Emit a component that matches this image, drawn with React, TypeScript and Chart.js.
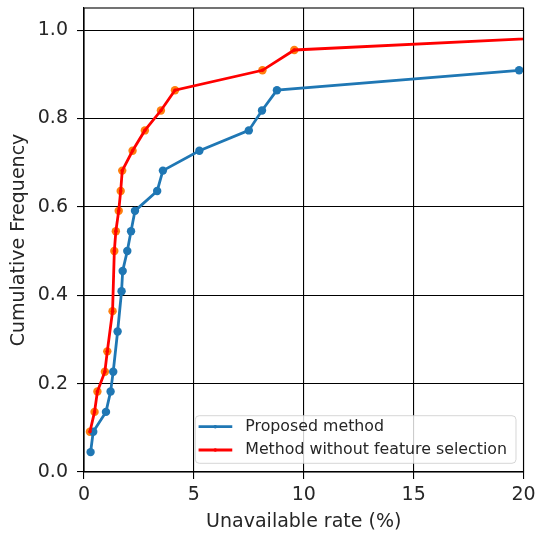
import React, { useEffect, useRef } from "react";
import { Chart, registerables } from "chart.js";

Chart.register(...registerables);

// ---- data ----
const proposedRate = [0.3, 0.42, 1.0, 1.21, 1.33, 1.53, 1.71, 1.76, 1.97, 2.14, 2.32, 3.33, 3.59, 5.25, 7.5, 8.1, 8.78, 19.8];
const proposedFreq = [0.045, 0.091, 0.136, 0.182, 0.227, 0.318, 0.409, 0.455, 0.5, 0.545, 0.591, 0.636, 0.682, 0.727, 0.773, 0.818, 0.864, 0.909];
const baselineRate = [0.27, 0.48, 0.61, 0.95, 1.06, 1.3, 1.38, 1.45, 1.58, 1.67, 1.74, 2.21, 2.77, 3.5, 4.14, 8.12, 9.57, 28.3];
const baselineFreq = [0.091, 0.136, 0.182, 0.227, 0.273, 0.364, 0.5, 0.545, 0.591, 0.636, 0.682, 0.727, 0.773, 0.818, 0.864, 0.909, 0.955, 1.0];
const seriesLabels = ["Proposed method", "Method without feature selection"];
const xTitle = "Unavailable rate (%)";
const yTitle = "Cumulative Frequency";

const FONT = "'DejaVu Sans', sans-serif";
const BLUE = "#1f77b4";
const RED = "#ff0000";
const ORANGE = "#ff7f0e";
const TEXT = "#262626";

const toPoints = (xs: number[], ys: number[]) => xs.map((x, i) => ({ x, y: ys[i] }));

const framePlugin = {
  id: "frame",
  afterDraw(chart: any) {
    const { ctx, chartArea } = chart;
    ctx.save();
    ctx.strokeStyle = "#000";
    ctx.lineWidth = 1.1;
    ctx.strokeRect(chartArea.left, chartArea.top, chartArea.right - chartArea.left, chartArea.bottom - chartArea.top);
    ctx.restore();
  },
};

const legendPlugin = {
  id: "insideLegend",
  afterDraw(chart: any) {
    const { ctx, chartArea } = chart;
    ctx.save();
    ctx.font = `15.8px ${FONT}`;
    const items = [
      { label: seriesLabels[0], color: BLUE },
      { label: seriesLabels[1], color: RED },
    ];
    const maxW = Math.max(...items.map((i) => ctx.measureText(i.label).width));
    const right = chartArea.right - 7.5;
    const bottom = chartArea.bottom - 8.7;
    const w = 50 + maxW + 9;
    const h = 47.6;
    const left = right - w;
    const top = bottom - h;
    ctx.beginPath();
    ctx.roundRect(left, top, w, h, 4);
    ctx.fillStyle = "rgba(255,255,255,0.8)";
    ctx.fill();
    ctx.strokeStyle = "rgba(204,204,204,0.8)";
    ctx.lineWidth = 1;
    ctx.stroke();
    items.forEach((it, i) => {
      const y = top + 11 + i * 23.3;
      ctx.beginPath();
      ctx.moveTo(left + 3.3, y);
      ctx.lineTo(left + 37, y);
      ctx.strokeStyle = it.color;
      ctx.lineWidth = 2.8;
      ctx.stroke();
      ctx.beginPath();
      ctx.arc(left + 20, y, 1.8, 0, Math.PI * 2);
      ctx.fillStyle = it.color;
      ctx.fill();
      ctx.fillStyle = TEXT;
      ctx.textAlign = "left";
      ctx.textBaseline = "middle";
      ctx.fillText(it.label, left + 50, y);
    });
    ctx.restore();
  },
};

export default function App() {
  const ref = useRef<HTMLCanvasElement>(null);
  useEffect(() => {
    if (!ref.current) return;
    const chart = new Chart(ref.current, {
      type: "line",
      data: {
        datasets: [
          {
            label: seriesLabels[1],
            data: toPoints(baselineRate, baselineFreq),
            borderColor: RED,
            backgroundColor: RED,
            borderWidth: 2.8,
            pointRadius: 1.8,
            pointBorderWidth: 0,
            pointBackgroundColor: RED,
            order: 0,
          },
          {
            label: seriesLabels[0],
            data: toPoints(proposedRate, proposedFreq),
            borderColor: BLUE,
            backgroundColor: BLUE,
            borderWidth: 2.8,
            pointRadius: 4.2,
            pointBorderWidth: 0,
            pointBackgroundColor: BLUE,
            order: 1,
          },
          {
            label: "markers",
            data: toPoints(baselineRate, baselineFreq),
            showLine: false,
            borderColor: ORANGE,
            backgroundColor: ORANGE,
            pointRadius: 4.2,
            pointBorderWidth: 0,
            pointBackgroundColor: ORANGE,
            order: 2,
          },
        ],
      },
      options: {
        animation: false,
        responsive: false,
        maintainAspectRatio: false,
        layout: { padding: { top: 8, right: 11.5, bottom: 0, left: 0 } },
        plugins: {
          legend: { display: false },
          tooltip: { enabled: false },
        },
        scales: {
          x: {
            type: "linear",
            min: 0,
            max: 20,
            afterFit: (s: any) => {
              s.height = 65;
              s.paddingRight = 0;
              s.paddingLeft = 0;
            },
            ticks: {
              stepSize: 5,
              includeBounds: false,
              color: TEXT,
              font: { family: FONT, size: 19 },
              padding: 5,
              maxRotation: 0,
              callback: (v: any) => String(v),
            },
            grid: { color: "#000", lineWidth: 1.1, tickLength: 7, tickColor: "#000", tickWidth: 1.1 },
            border: { color: "#000", width: 1.1 },
            title: {
              display: true,
              text: xTitle,
              color: TEXT,
              font: { family: FONT, size: 19 },
              padding: { top: 0, bottom: 3.5 },
            },
          },
          y: {
            type: "linear",
            min: 0,
            max: 1.05,
            afterFit: (s: any) => {
              s.width = 84;
              s.paddingTop = 0;
              s.paddingBottom = 0;
            },
            ticks: {
              stepSize: 0.2,
              includeBounds: false,
              color: TEXT,
              font: { family: FONT, size: 19 },
              padding: 9,
              callback: (v: any) => Number(v).toFixed(1),
            },
            grid: { color: "#000", lineWidth: 1.1, tickLength: 7, tickColor: "#000", tickWidth: 1.1 },
            border: { color: "#000", width: 1.1 },
            title: {
              display: true,
              text: yTitle,
              color: TEXT,
              font: { family: FONT, size: 19 },
              padding: { top: 7.5, bottom: 0 },
            },
          },
        },
      },
      plugins: [framePlugin, legendPlugin],
    } as any);
    return () => chart.destroy();
  }, []);
  return (
    <div style={{ position: "fixed", left: 0, top: 0, width: 535, height: 537, background: "#fff" }}>
      <canvas ref={ref} width={535} height={537} style={{ width: 535, height: 537, display: "block" }} />
    </div>
  );
}
